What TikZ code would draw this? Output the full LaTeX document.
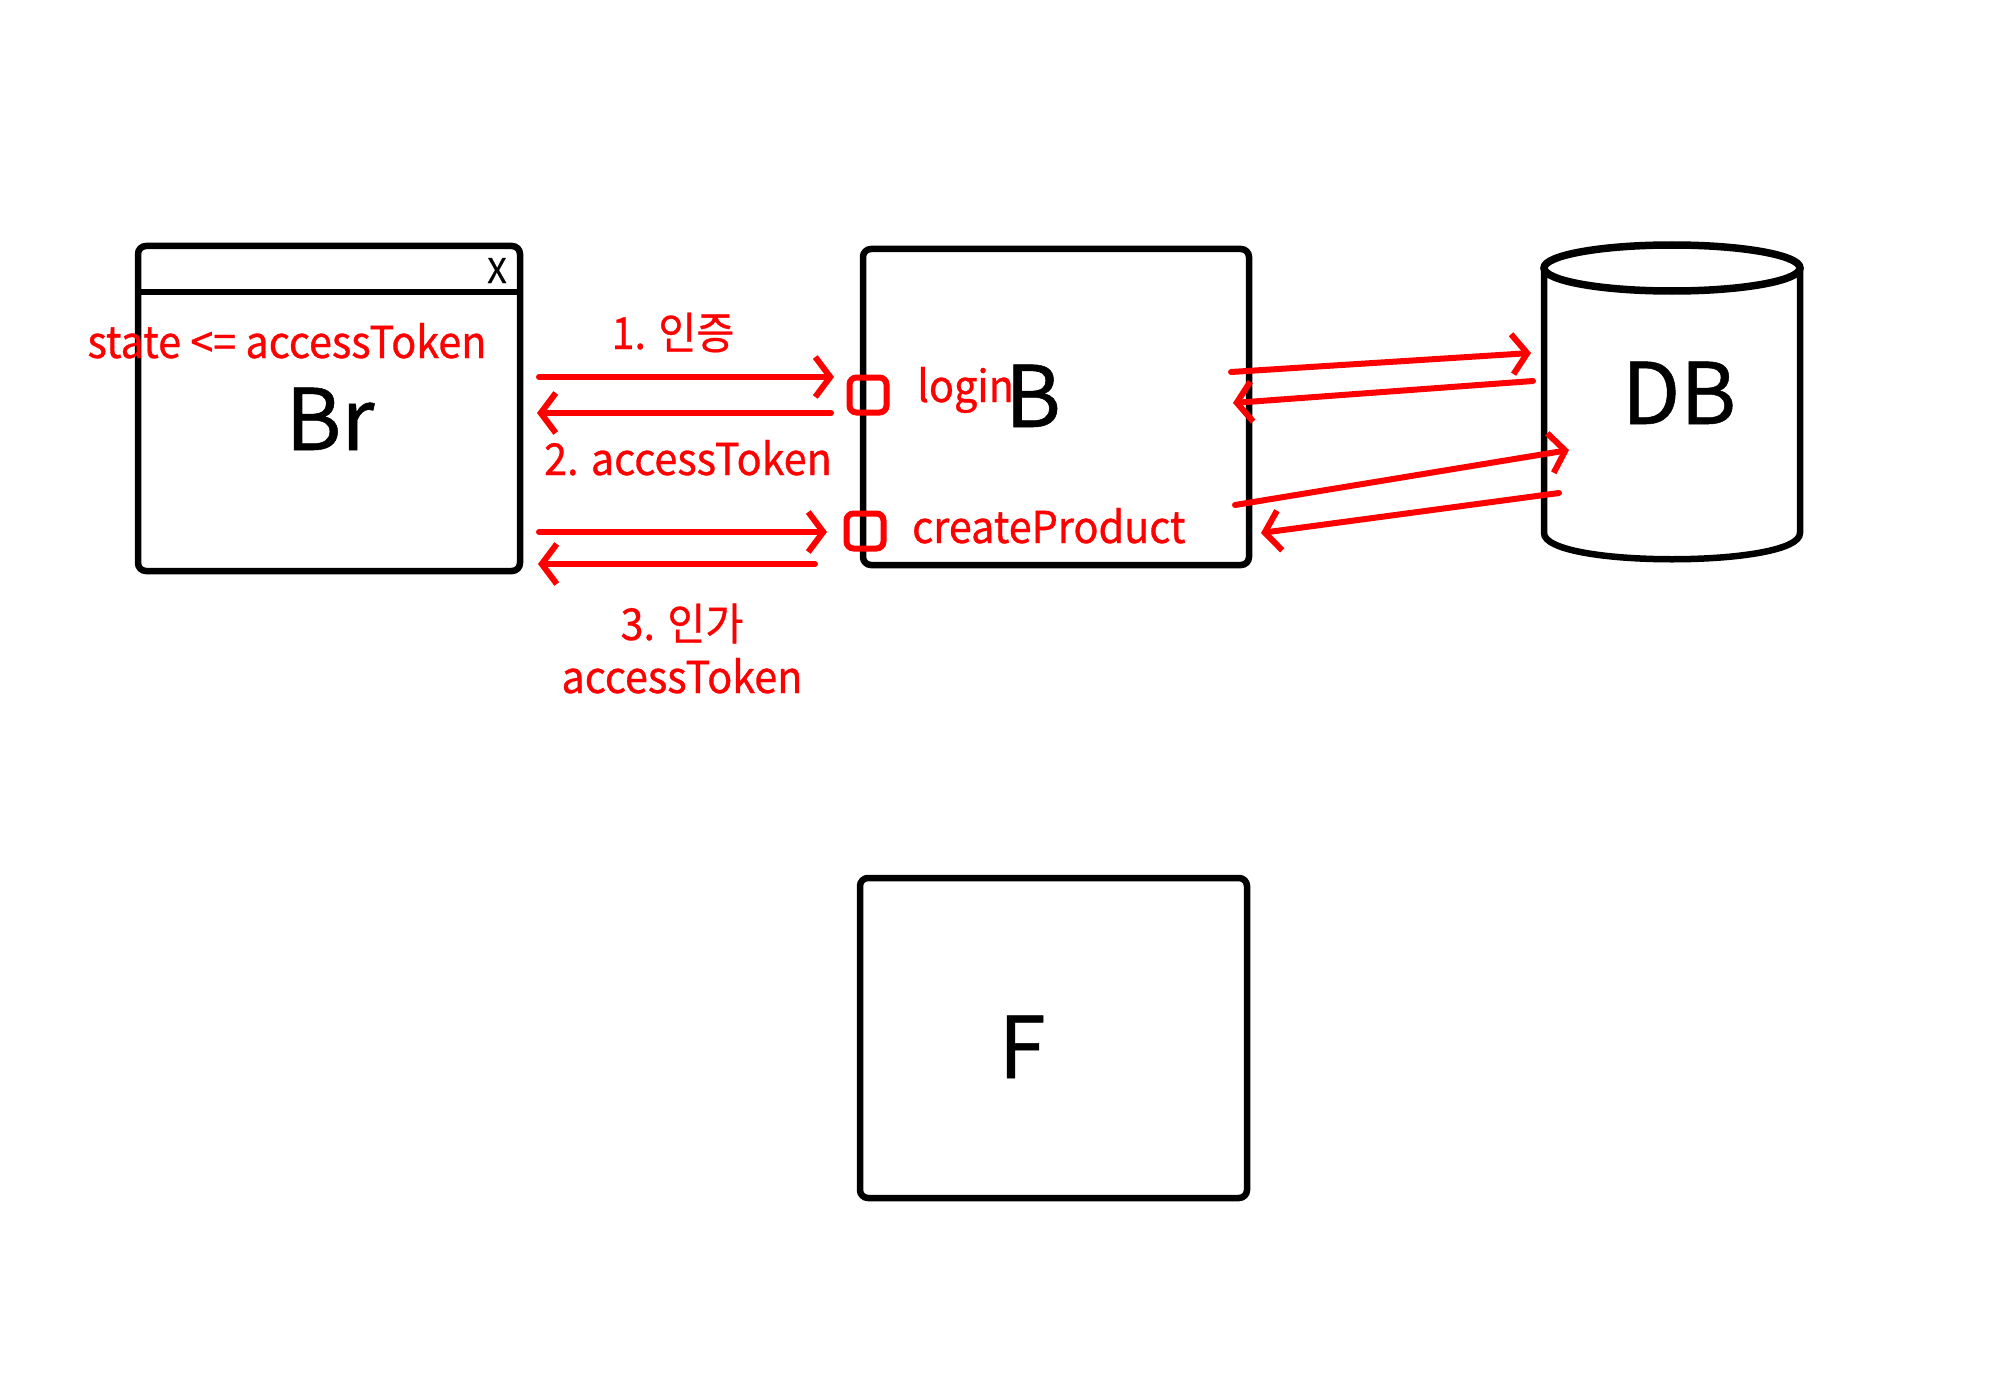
\documentclass[tikz,border=0pt]{standalone}
\usepackage{fontspec}
\setmainfont{Noto Sans CJK KR}
\newfontfamily\redfont[FakeStretch=0.94, FakeBold=0.7]{Noto Sans CJK KR}
\newfontfamily\bigfont[FakeBold=0.6]{Noto Sans CJK KR}
\usetikzlibrary{arrows.meta}
\tikzset{
  boxshape/.style={draw=black, line width=6.5pt, rounded corners=8pt, inner sep=0pt},
  bigtext/.style={font=\bigfont\fontsize{85}{90}\selectfont, anchor=base, inner sep=0pt},
  redtext/.style={text=red, font=\redfont\fontsize{44}{50}\selectfont, inner sep=0pt},
  portshape/.style={draw=red, line width=6pt, rounded corners=7pt, minimum width=37pt, minimum height=35pt, inner sep=0pt},
  redarrow/.style={draw=red, line width=6pt, line cap=round, line join=round, -{Straight Barb[length=15pt, width=40pt]}}
}
\begin{document}
\begin{tikzpicture}[x=1pt, y=-1pt]
\useasboundingbox (0,0) rectangle (2000,1391);
\fill[white] (0,0) rectangle (2000,1391);

% Browser window
\node[boxshape, minimum width=382pt, minimum height=325pt] (Br) at (329,408.5) {};
\coordinate (tbar) at (0,292);
\draw[line width=6.5pt] (Br.west |- tbar) -- (Br.east |- tbar);
\node[anchor=base, inner sep=0pt, font=\bigfont\fontsize{34}{40}\selectfont] (X) at (497,283) {X};
\node[bigtext] (Brlabel) at (330,450) {Br};
\node[redtext, anchor=base] (state) at (287,358) {state <= accessToken};

% Backend
\node[boxshape, minimum width=386pt, minimum height=316pt] (B) at (1056,407) {};
\node[bigtext] (Blabel) at (1033,427) {B};
\node[redtext, anchor=base west] (login) at (917,402) {login};
\node[redtext, anchor=base west] (create) at (912,543) {createProduct};
\node[portshape] (pL) at (868,395) {};
\node[portshape] (pC) at (865,531) {};

% Frontend
\node[boxshape, minimum width=387pt, minimum height=320pt] (F) at (1053.5,1038) {};
\node[bigtext] (Flabel) at (1022,1078) {F};

% Database
\draw[line width=6.5pt] (1544,268) -- (1544,533) .. controls (1544,568) and (1800,568) .. (1800,533) -- (1800,268);
\draw[line width=7.5pt] (1672,268) ellipse [x radius=128, y radius=23];
\node[bigtext] (DB) at (1679,424) {DB};

% Arrows Br <-> B
\coordinate (a1s) at (539,377); \coordinate (a1e) at (834,377);
\coordinate (a2s) at (831,413); \coordinate (a2e) at (537,413);
\coordinate (a3s) at (539,532); \coordinate (a3e) at (827,532);
\coordinate (a4s) at (815,564); \coordinate (a4e) at (538,564);
\draw[redarrow] (a1s) -- (a1e);
\draw[redarrow] (a2s) -- (a2e);
\draw[redarrow] (a3s) -- (a3e);
\draw[redarrow] (a4s) -- (a4e);

\node[redtext, anchor=base] (l1) at (673,349) {1. 인증};
\node[redtext, anchor=base] (l2) at (688,475) {2. accessToken};
\node[redtext, anchor=base] (l3) at (682,640) {3. 인가};
\node[redtext, anchor=base] (l4) at (682,693) {accessToken};

% Arrows B <-> DB
\coordinate (b1s) at (1231,372); \coordinate (b1e) at (1531,353);
\coordinate (b2s) at (1533,381); \coordinate (b2e) at (1233,403);
\coordinate (b3s) at (1235,505); \coordinate (b3e) at (1569,450);
\coordinate (b4s) at (1559,493); \coordinate (b4e) at (1261,533);
\draw[redarrow] (b1s) -- (b1e);
\draw[redarrow] (b2s) -- (b2e);
\draw[redarrow] (b3s) -- (b3e);
\draw[redarrow] (b4s) -- (b4e);
\end{tikzpicture}
\end{document}
